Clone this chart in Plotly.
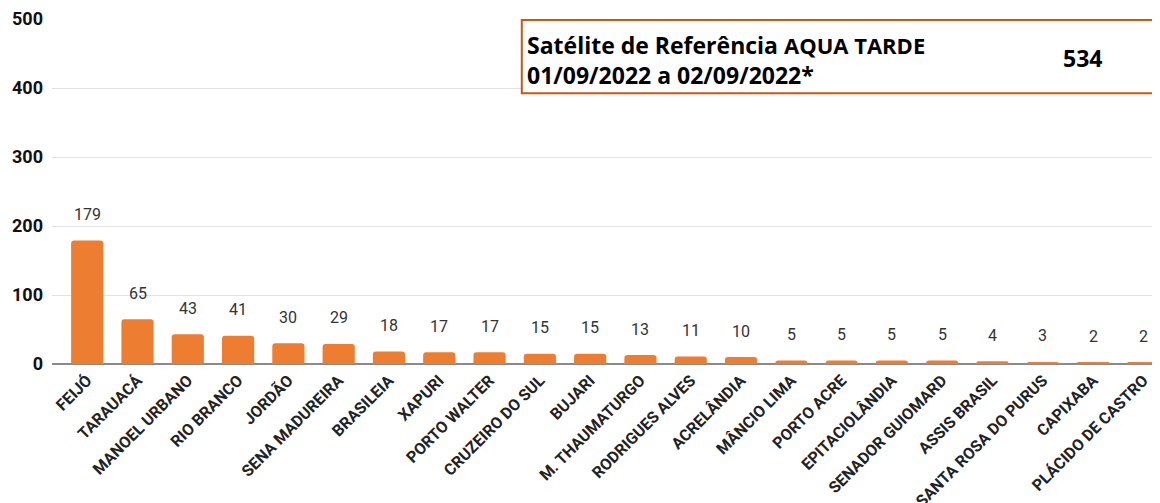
import plotly.graph_objects as go

municipios = ["FEIJÓ", "TARAUACÁ", "MANOEL URBANO", "RIO BRANCO", "JORDÃO", "SENA MADUREIRA",
              "BRASILEIA", "XAPURI", "PORTO WALTER", "CRUZEIRO DO SUL", "BUJARI", "M. THAUMATURGO",
              "RODRIGUES ALVES", "ACRELÂNDIA", "MÂNCIO LIMA", "PORTO ACRE", "EPITACIOLÂNDIA",
              "SENADOR GUIOMARD", "ASSIS BRASIL", "SANTA ROSA DO PURUS", "CAPIXABA", "PLÁCIDO DE CASTRO"]
focos = [179, 65, 43, 41, 30, 29, 18, 17, 17, 15, 15, 13, 11, 10, 5, 5, 5, 5, 4, 3, 2, 2]
y_ticks = [0, 100, 200, 300, 400, 500]
total = 534
titulo_l1a = "Satélite de Referência"
titulo_l1b = "AQUA TARDE"
titulo_l2 = "01/09/2022 a 02/09/2022*"

fig = go.Figure()
fig.add_trace(go.Bar(
    x=list(range(len(municipios))), y=focos,
    marker=dict(color="#ED7D31", cornerradius=3, line=dict(width=0)),
    width=0.64, hoverinfo="skip",
))

for i, v in enumerate(focos):
    fig.add_annotation(x=i, y=v, text=str(v), showarrow=False, yanchor="middle", yshift=26,
                       font=dict(family="Roboto", size=16, color="#333333"))

fig.add_shape(type="rect", xref="paper", yref="paper", x0=0.424, x1=1.02, y0=0.785, y1=0.997,
              line=dict(color="#C55A11", width=2), fillcolor="white", layer="above")
fig.add_annotation(xref="paper", yref="paper", x=0.427, y=0.925, xanchor="left", yanchor="middle",
                   showarrow=False, align="left",
                   text=f"{titulo_l1a} <span style='font-size:22px'>{titulo_l1b}</span>",
                   font=dict(family="Open Sans", size=23, color="#000000", weight="bold"))
fig.add_annotation(xref="paper", yref="paper", x=0.427, y=0.838, xanchor="left", yanchor="middle",
                   showarrow=False, align="left", text=titulo_l2,
                   font=dict(family="Open Sans", size=23, color="#000000", weight="bold"))
fig.add_annotation(xref="paper", yref="paper", x=0.930, y=0.888, xanchor="center", yanchor="middle",
                   showarrow=False, text=str(total),
                   font=dict(family="Open Sans", size=23, color="#000000", weight="bold"))

fig.update_layout(
    width=1160, height=503,
    margin=dict(l=44, r=8, t=11, b=147, autoexpand=False),
    paper_bgcolor="white", plot_bgcolor="white",
    showlegend=False,
    xaxis=dict(
        tickmode="array", tickvals=list(range(len(municipios))), ticktext=municipios,
        tickangle=-45, range=[-0.7, 21.33], showgrid=False, showline=False, ticks="",
        automargin=False, ticklabelstandoff=3,
        tickfont=dict(family="Roboto", size=16, color="#222222", weight="bold"),
    ),
    yaxis=dict(
        range=[0, 500], tickvals=y_ticks, showgrid=True, gridcolor="#E3E3E3", gridwidth=1,
        zeroline=True, zerolinecolor="#8A8A8A", zerolinewidth=2, showline=False, ticks="",
        ticklabelstandoff=8, automargin=False,
        tickfont=dict(family="Roboto", size=18, color="#111111", weight="bold"),
    ),
)

fig.write_html("out.html")
